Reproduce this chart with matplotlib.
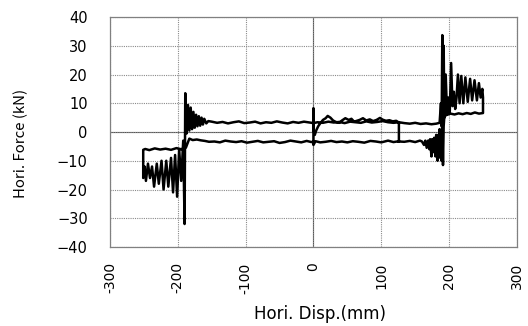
import matplotlib
matplotlib.use("Agg")
import matplotlib.pyplot as plt
import numpy as np

plt.rcParams["font.family"] = ["DejaVu Sans"]

# spike at 0 and bumpy upper trace 0 -> 126
x_a = [0, 0, 0.5, 2, 4, 7, 10, 14, 18, 21, 25, 29, 33, 38, 42, 47, 52, 56, 60,
       64, 68, 73, 78, 83, 88, 93, 98, 102, 107, 112, 117, 122, 126, 126]
f_a = [-3.5, 8.3, 0.5, -1.0, 0.5, 2.0, 3.0, 4.2, 4.8, 5.6, 5.0, 4.0, 3.5, 3.2,
       4.0, 4.8, 4.2, 4.6, 3.6, 3.9, 4.2, 4.8, 4.0, 4.4, 3.8, 4.2, 4.9, 4.3,
       3.9, 4.1, 3.7, 3.9, 3.3, -3.4]

# lower branch 126 -> -183
x_b = [126, 118, 110, 100, 92, 84, 75, 66, 58, 50, 42, 34, 26, 18, 10, 3, 0,
       0, -3, -10, -18, -26, -34, -42, -50, -58, -66, -74, -82, -90, -98,
       -106, -114, -122, -130, -138, -146, -154, -160, -166, -172, -178, -183]
f_b = [-3.2, -3.5, -3.0, -3.6, -3.3, -3.1, -3.7, -3.4, -3.2, -3.6, -3.3, -3.5,
       -3.1, -3.4, -3.6, -3.2, -4.5, -3.3, -3.5, -3.1, -3.6, -3.3, -3.0, -3.5,
       -3.8, -3.2, -3.4, -3.6, -3.1, -3.4, -3.7, -3.2, -3.5, -3.3, -3.0, -3.6,
       -3.3, -3.4, -3.1, -2.9, -2.6, -2.8, -2.3]

# left plateau -188 -> -251
x_c = [-188, -195, -202, -210, -218, -226, -234, -242, -248, -251]
f_c = [-5.4, -6.0, -5.6, -6.2, -5.8, -6.1, -5.7, -6.3, -5.9, -6.2]

# left oscillations -251 -> -189
x_d = [-251, -249, -247, -244, -241, -238, -235, -231, -228, -224, -221,
       -217, -214, -210, -207, -204, -201, -198, -195, -192, -190, -189]
f_d = [-16, -12, -17, -11, -16, -12, -19, -11, -18, -10, -20, -10, -19, -9,
       -21, -8, -22.5, -6, -17, -3, -32, 13.5]

# decaying oscillations after the reversal
x_e = [-187, -185, -183, -181, -179, -177, -175, -173, -171, -169, -167,
       -165, -163, -161, -158, -155]
f_e = [-0.5, 9.4, 0.5, 8.5, 1.0, 7.0, 1.5, 6.0, 2.0, 5.5, 2.2, 5.0, 2.6, 4.6,
       3.0, 3.8]

# upper branch -150 -> 186
x_g = [-150, -142, -134, -126, -118, -110, -102, -94, -86, -78, -70, -62, -54,
       -46, -38, -30, -22, -14, -6, 0, 6, 14, 22, 30, 38, 46, 54, 62, 70, 78,
       86, 94, 102, 110, 118, 126, 134, 142, 150, 158, 166, 174, 181, 186]
f_g = [3.6, 3.2, 3.5, 3.0, 3.4, 3.7, 3.1, 3.3, 3.6, 3.0, 3.4, 3.2, 3.7, 3.3,
       3.0, 3.5, 3.2, 3.6, 3.3, 3.1, 3.4, 3.2, 3.6, 3.3, 3.5, 3.1, 3.6, 3.4,
       3.2, 3.7, 3.3, 3.5, 3.8, 3.4, 3.2, 3.4, 3.1, 2.9, 3.2, 2.8, 3.0, 2.7,
       2.9, 3.2]

# right spike and oscillations 188 -> 250
x_h = [188, 189, 190, 191, 192, 193, 195, 197, 199, 201, 203, 205, 207, 209,
       211, 213, 215.5, 218, 221, 224, 227.5, 231, 234, 237.5, 241, 244,
       246.5, 249, 250, 250]
f_h = [10, 2, 33.7, 3, 30, 5, 20, 6, 12, 7, 24, 9, 14, 8, 12, 20, 10, 19.5,
       10, 19, 10.5, 18.5, 11, 18, 11, 17, 12, 15, 12, 6.6]

# right plateau 250 -> 193
x_i = [244, 238, 232, 226, 220, 214, 208, 202, 197, 193]
f_i = [6.4, 6.8, 6.3, 6.6, 6.2, 6.5, 6.1, 6.4, 6.0, 5.5]

# lower oscillations 192 -> 126
x_j = [192, 191, 190, 189, 188, 187, 186, 185, 184, 183, 181, 180, 178, 177,
       175, 174, 172, 171, 169, 167, 165, 163, 160, 157, 150, 142, 134, 126]
f_j = [2, -11.5, 5, -10, 0, -9, 1, -7, -1, -10, -1, -8.5, -2, -7, -2.5, -8.5,
       -2.5, -6, -3, -5.5, -3, -4.5, -3.3, -3.0, -3.5, -3.1, -3.4, -3.3]

x_ticks = [-300, -200, -100, 0, 100, 200, 300]
x_labels = ["-300", "-200", "-100", "0", "100", "200", "300"]
y_ticks = [-40, -30, -20, -10, 0, 10, 20, 30, 40]
y_labels = ["\u221240", "\u221230", "\u221220", "\u221210", "0",
            "10", "20", "30", "40"]


def main():
    """Draw the loop."""
    disp = np.concatenate([x_a, x_b, x_c, x_d, x_e, x_g, x_h, x_i, x_j])
    force = np.concatenate([f_a, f_b, f_c, f_d, f_e, f_g, f_h, f_i, f_j])

    fig = plt.figure(figsize=(5.28, 3.26), dpi=100)
    ax = fig.add_axes([0.2083, 0.2423, 0.7707, 0.7055])

    ax.grid(True, color="#8a8a8a", linestyle=(0, (1, 1)), linewidth=0.8)
    ax.axhline(0, color="#555555", linewidth=0.8, zorder=1.5)
    ax.axvline(0, color="#555555", linewidth=0.8, zorder=1.5)
    ax.plot(disp, force, color="black", linewidth=1.8, zorder=3)

    ax.set_xlim(-300, 300)
    ax.set_ylim(-40, 40)
    ax.set_xticks(x_ticks)
    ax.set_xticklabels(x_labels, rotation=90, fontsize=10)
    ax.set_yticks(y_ticks)
    ax.set_yticklabels(y_labels, fontsize=10.5)
    ax.tick_params(axis="y", length=0, pad=16)
    ax.tick_params(axis="x", length=0, pad=11)
    for sp in ax.spines.values():
        sp.set_color("#808080")
        sp.set_linewidth(0.9)

    ax.set_ylabel("Hori. Force (kN)", fontsize=10.8,
                  family=["Noto Sans CJK JP", "DejaVu Sans"])
    ax.yaxis.set_label_coords(-0.2015, 0.452)
    ax.set_xlabel("Hori. Disp.(mm)", fontsize=12)
    ax.xaxis.set_label_coords(0.516, -0.25)

    fig.savefig("out.png", dpi=100)


if __name__ == "__main__":
    main()
